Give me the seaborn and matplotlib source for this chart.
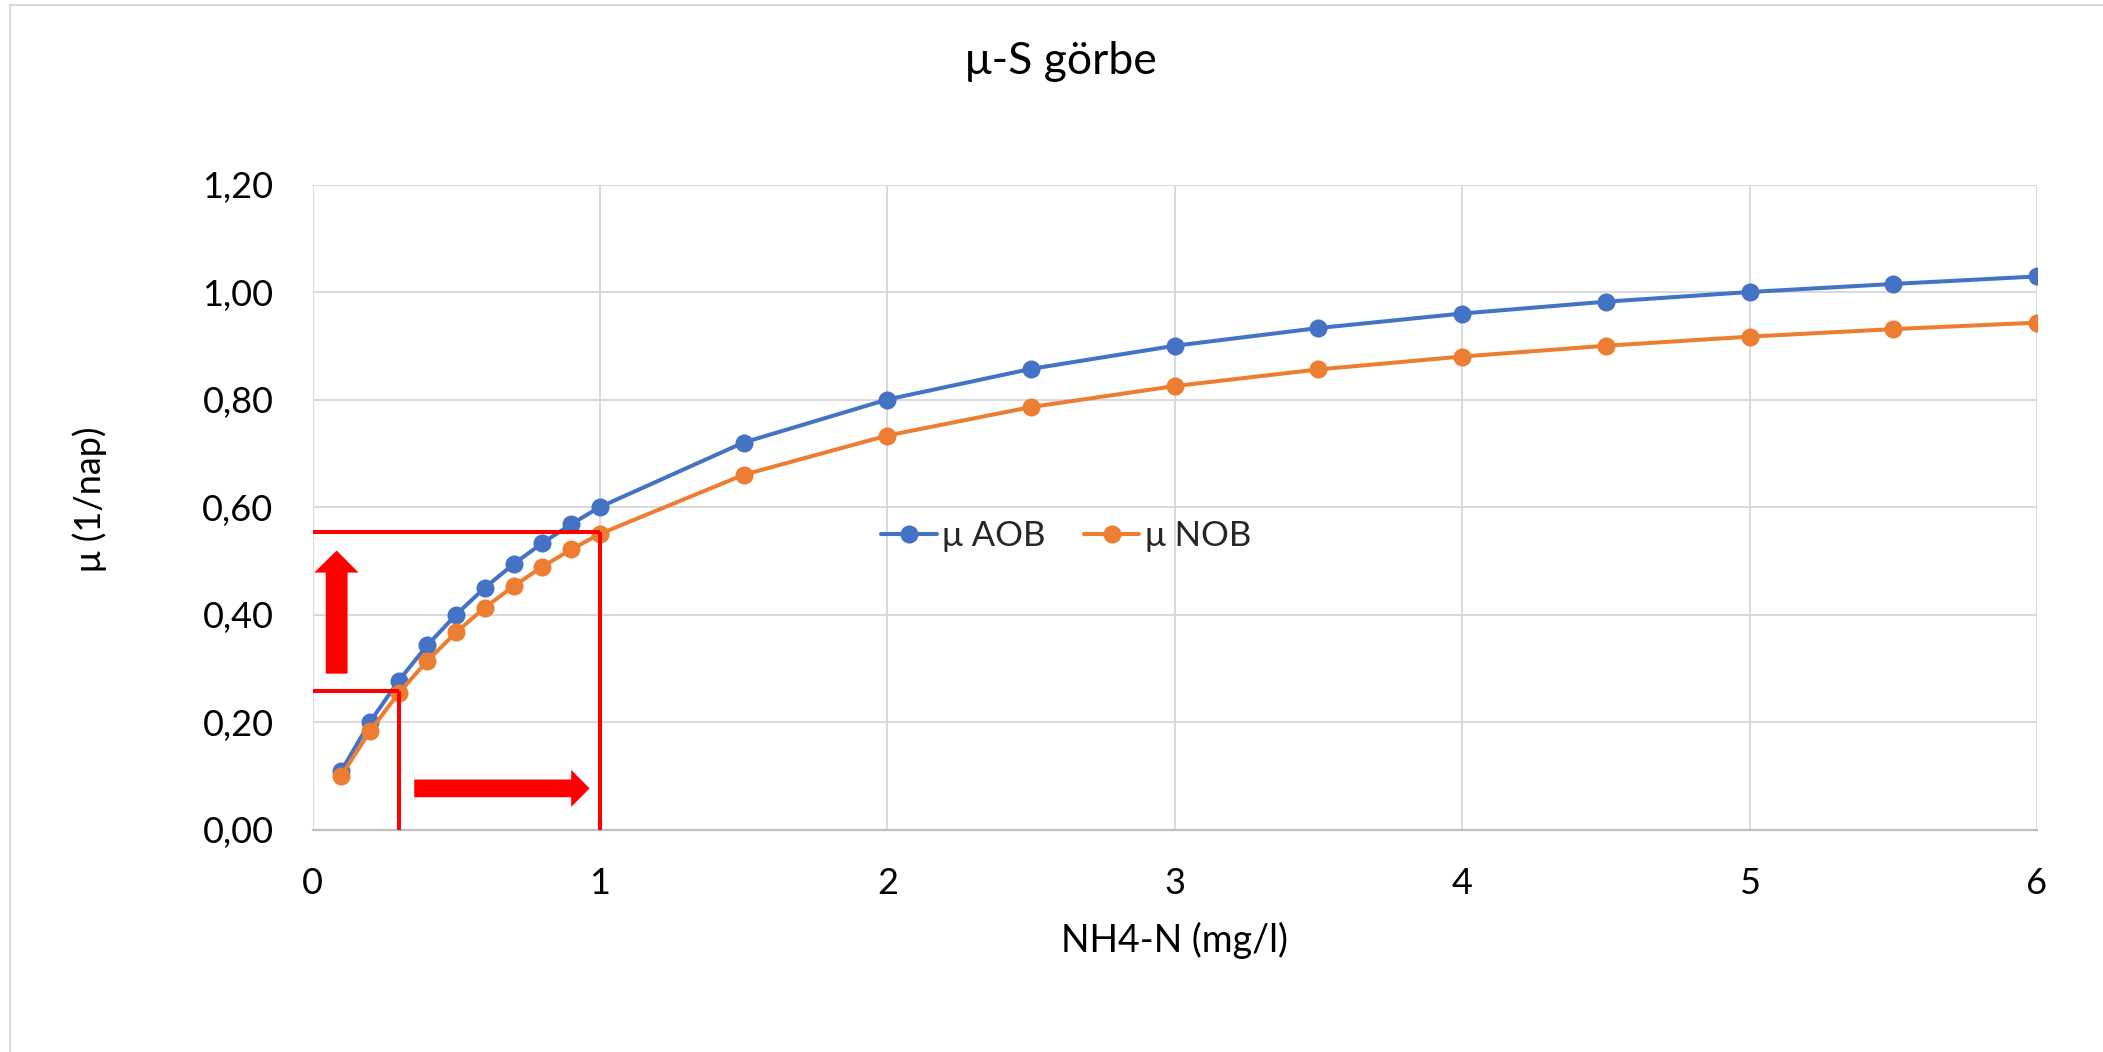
import matplotlib
matplotlib.use("Agg")
import matplotlib.pyplot as plt
import seaborn as sns
import pandas as pd
from matplotlib.patches import Polygon, Rectangle
from matplotlib.lines import Line2D
from matplotlib.ticker import FuncFormatter

# ---- data ----
s_values = [0.1, 0.2, 0.3, 0.4, 0.5, 0.6, 0.7, 0.8, 0.9, 1.0,
            1.5, 2.0, 2.5, 3.0, 3.5, 4.0, 4.5, 5.0, 5.5, 6.0]
mu_aob = [0.109, 0.200, 0.277, 0.343, 0.400, 0.450, 0.494, 0.533, 0.568, 0.600,
          0.720, 0.800, 0.857, 0.900, 0.933, 0.960, 0.982, 1.000, 1.015, 1.029]
mu_nob = [0.100, 0.183, 0.254, 0.314, 0.367, 0.413, 0.453, 0.489, 0.521, 0.550,
          0.660, 0.733, 0.786, 0.825, 0.856, 0.880, 0.900, 0.917, 0.931, 0.943]
series_names = ["μ AOB", "μ NOB"]
series_colors = ["#4472C4", "#ED7D31"]
x_ticks = [0, 1, 2, 3, 4, 5, 6]
y_ticks = [0.0, 0.2, 0.4, 0.6, 0.8, 1.0, 1.2]
title_text = "μ-S görbe"
x_label = "NH4-N (mg/l)"
y_label = "μ (1/nap)"

# reference guide lines (annotation)
guide_low = (0.3, 0.258)
guide_high = (1.0, 0.554)

sns.set_theme(style="white")
plt.rcParams["font.family"] = ["Lato", "DejaVu Sans"]

df = pd.concat([
    pd.DataFrame({"S": s_values, "mu": mu_aob, "series": series_names[0]}),
    pd.DataFrame({"S": s_values, "mu": mu_nob, "series": series_names[1]}),
])

fig = plt.figure(figsize=(21.03, 10.52), dpi=100)
fig.patch.set_facecolor("white")
ax = fig.add_axes([0.1486, 0.2115, 0.8200, 0.6131])

sns.lineplot(data=df, x="S", y="mu", hue="series", palette=series_colors,
             marker="o", markersize=13, markeredgewidth=0, linewidth=2.9,
             sort=False, legend=False, ax=ax, zorder=3)

ax.set_xlim(0, 6)
ax.set_ylim(0, 1.2)
ax.set_xticks(x_ticks)
ax.set_yticks(y_ticks)
ax.yaxis.set_major_formatter(FuncFormatter(lambda v, p: f"{v:.2f}".replace(".", ",")))
ax.xaxis.set_major_formatter(FuncFormatter(lambda v, p: f"{int(round(v))}"))
ax.grid(True, color="#D9D9D9", linewidth=1.4)
ax.set_axisbelow(True)
for side in ["top", "right", "left"]:
    ax.spines[side].set_visible(False)
ax.spines["bottom"].set_color("#BFBFBF")
ax.spines["bottom"].set_linewidth(1.6)
ax.spines["bottom"].set_zorder(2)
ax.tick_params(axis="both", length=0, labelsize=26, colors="#000000")
ax.tick_params(axis="x", pad=27)
ax.tick_params(axis="y", pad=28)
ax.set_xlabel("")
ax.set_ylabel("")

# red guide lines
red = "#FF0000"
lw = 2.9
ax.plot([0, guide_high[0]], [guide_high[1], guide_high[1]], color=red, lw=lw, zorder=4, solid_capstyle="butt")
ax.plot([guide_high[0], guide_high[0]], [0, guide_high[1]], color=red, lw=lw, zorder=4, solid_capstyle="butt")
ax.plot([0, guide_low[0]], [guide_low[1], guide_low[1]], color=red, lw=lw, zorder=4, solid_capstyle="butt")
ax.plot([guide_low[0], guide_low[0]], [0, guide_low[1]], color=red, lw=lw, zorder=4, solid_capstyle="butt")

# block arrows
up_arrow = [(0.046, 0.290), (0.122, 0.290), (0.122, 0.478), (0.160, 0.478),
            (0.084, 0.519), (0.006, 0.478), (0.046, 0.478)]
right_arrow = [(0.354, 0.060), (0.900, 0.060), (0.900, 0.042), (0.964, 0.0765),
               (0.900, 0.111), (0.900, 0.093), (0.354, 0.093)]
ax.add_patch(Polygon(up_arrow, closed=True, facecolor=red, edgecolor="none", zorder=4))
ax.add_patch(Polygon(right_arrow, closed=True, facecolor=red, edgecolor="none", zorder=4))

# legend
handles = [Line2D([0], [0], color=c, lw=2.9, marker="o", markersize=13, markeredgewidth=0)
           for c in series_colors]
ax.legend(handles, series_names, loc="center", bbox_to_anchor=(0.437, 0.455),
          ncol=2, frameon=False, fontsize=25, handlelength=1.6, handletextpad=0.15,
          columnspacing=1.1)

# titles / labels
fig.text(0.5045, 0.942, title_text, ha="center", va="center", fontsize=32, color="#000000")
fig.text(0.5587, 0.106, x_label, ha="center", va="center", fontsize=27, color="#000000")
fig.text(0.0428, 0.525, y_label, ha="center", va="center", rotation=90, fontsize=26, color="#000000")

# chart border
fig.patches.append(Rectangle((10 / 2103, -0.1), 1.2, 1.1 - 5 / 1052, transform=fig.transFigure,
                             fill=False, edgecolor="#D9D9D9", linewidth=1.5, figure=fig))

fig.savefig("out.png", dpi=100, facecolor="white")
